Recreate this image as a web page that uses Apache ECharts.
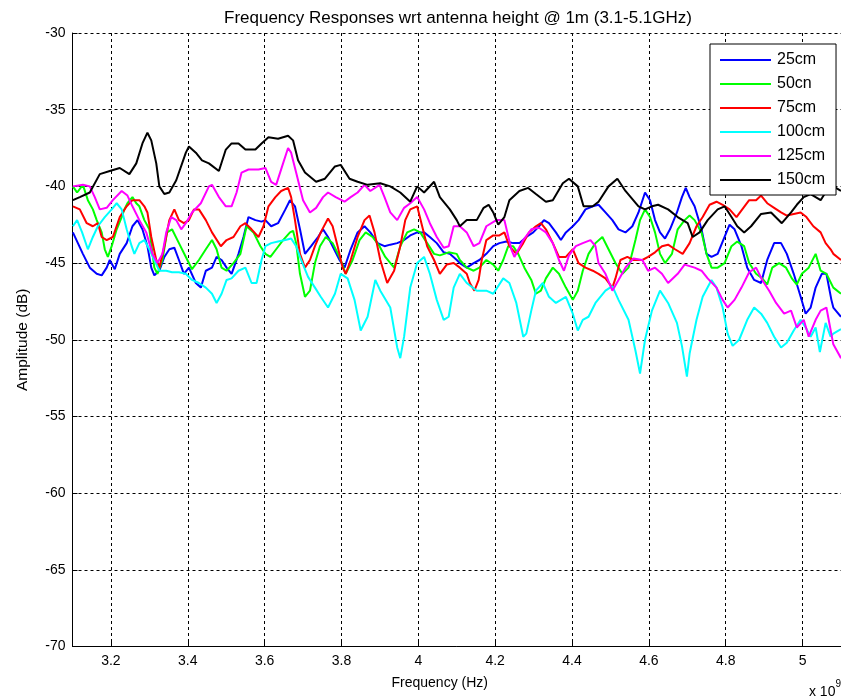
<!DOCTYPE html>
<html>
<head>
<meta charset="utf-8">
<script src="https://cdn.jsdelivr.net/npm/echarts@6/dist/echarts.min.js"></script>
<style>
  html, body { margin: 0; padding: 0; background: #fff; }
  #chart { width: 841px; height: 700px; }
</style>
</head>
<body>
<div id="chart"></div>
<script>
// Measured frequency responses, [frequency (GHz), amplitude (dB)] per antenna height.
const cm25 = [[3.101,-43.0],[3.114,-43.7],[3.127,-44.4],[3.145,-45.3],[3.163,-45.7],[3.176,-45.8],[3.189,-45.3],[3.197,-44.8],[3.210,-45.4],[3.223,-44.4],[3.241,-43.7],[3.256,-42.6],[3.269,-42.2],[3.282,-42.8],[3.295,-43.9],[3.305,-45.3],[3.313,-45.8],[3.326,-45.5],[3.339,-44.6],[3.352,-44.1],[3.365,-44.0],[3.377,-44.8],[3.390,-45.7],[3.403,-45.3],[3.421,-46.3],[3.434,-46.6],[3.447,-45.5],[3.463,-45.3],[3.475,-44.6],[3.488,-44.8],[3.501,-45.3],[3.514,-45.7],[3.524,-45.0],[3.532,-44.4],[3.545,-43.3],[3.558,-42.0],[3.576,-42.2],[3.592,-42.3],[3.602,-42.2],[3.617,-42.6],[3.635,-42.4],[3.654,-41.5],[3.666,-40.9],[3.679,-41.3],[3.692,-42.8],[3.705,-44.4],[3.721,-43.9],[3.739,-43.3],[3.752,-42.8],[3.765,-43.3],[3.777,-43.9],[3.795,-44.8],[3.808,-45.3],[3.824,-44.1],[3.842,-43.0],[3.860,-42.6],[3.875,-43.0],[3.894,-43.7],[3.912,-43.9],[3.927,-43.8],[3.945,-43.7],[3.963,-43.5],[3.979,-43.2],[3.997,-43.0],[4.015,-43.0],[4.030,-43.3],[4.048,-43.7],[4.066,-44.3],[4.082,-44.4],[4.100,-44.8],[4.108,-45.0],[4.126,-45.3],[4.144,-45.0],[4.159,-44.8],[4.177,-44.4],[4.195,-43.9],[4.211,-43.7],[4.229,-43.6],[4.247,-43.7],[4.263,-43.7],[4.281,-43.3],[4.299,-43.0],[4.314,-42.6],[4.327,-42.2],[4.340,-42.4],[4.358,-43.0],[4.371,-43.5],[4.384,-43.0],[4.402,-42.6],[4.417,-42.2],[4.435,-41.5],[4.454,-41.3],[4.469,-41.2],[4.487,-41.7],[4.505,-42.2],[4.521,-42.8],[4.539,-43.0],[4.557,-42.6],[4.573,-41.7],[4.590,-40.4],[4.603,-40.9],[4.616,-42.2],[4.629,-43.0],[4.642,-43.4],[4.655,-42.8],[4.673,-41.7],[4.686,-40.7],[4.696,-40.1],[4.706,-40.7],[4.719,-41.3],[4.737,-42.8],[4.750,-44.4],[4.763,-44.6],[4.779,-44.4],[4.797,-43.3],[4.810,-42.5],[4.823,-42.8],[4.841,-43.9],[4.856,-45.3],[4.874,-46.1],[4.892,-46.3],[4.908,-44.8],[4.926,-43.7],[4.944,-43.7],[4.959,-44.4],[4.977,-45.7],[4.995,-47.2],[5.008,-48.3],[5.021,-47.9],[5.034,-46.6],[5.050,-45.7],[5.062,-45.7],[5.075,-47.4],[5.080,-47.9],[5.100,-48.5]];

const cm50 = [[3.101,-40.0],[3.112,-40.4],[3.127,-39.9],[3.140,-40.9],[3.153,-41.5],[3.163,-42.2],[3.176,-43.0],[3.184,-44.1],[3.192,-44.6],[3.202,-43.9],[3.215,-42.8],[3.228,-42.0],[3.235,-41.5],[3.243,-41.1],[3.256,-40.7],[3.266,-41.1],[3.274,-41.3],[3.287,-42.2],[3.300,-42.8],[3.313,-45.3],[3.321,-45.7],[3.334,-44.8],[3.346,-43.0],[3.359,-42.8],[3.377,-43.7],[3.395,-44.6],[3.411,-45.4],[3.429,-44.8],[3.447,-44.1],[3.463,-43.5],[3.475,-44.1],[3.488,-45.3],[3.501,-45.5],[3.519,-45.0],[3.537,-44.4],[3.553,-42.6],[3.571,-43.0],[3.589,-43.9],[3.602,-44.4],[3.615,-44.6],[3.630,-44.1],[3.648,-43.5],[3.666,-43.0],[3.674,-42.9],[3.682,-43.7],[3.692,-45.7],[3.705,-47.2],[3.718,-46.8],[3.731,-45.0],[3.744,-43.9],[3.759,-43.3],[3.777,-43.7],[3.795,-44.6],[3.811,-45.7],[3.829,-44.8],[3.847,-43.5],[3.863,-43.0],[3.881,-43.3],[3.899,-43.9],[3.914,-44.6],[3.937,-45.3],[3.953,-43.9],[3.971,-43.0],[3.989,-42.8],[4.005,-43.0],[4.023,-43.7],[4.041,-44.4],[4.056,-44.5],[4.079,-44.3],[4.100,-44.4],[4.108,-44.8],[4.126,-45.3],[4.144,-45.5],[4.159,-45.3],[4.177,-44.8],[4.195,-45.1],[4.208,-45.5],[4.221,-44.8],[4.234,-43.9],[4.247,-43.9],[4.260,-44.4],[4.276,-45.3],[4.294,-46.1],[4.306,-47.0],[4.319,-46.8],[4.332,-46.0],[4.350,-45.3],[4.366,-45.7],[4.384,-46.6],[4.402,-47.4],[4.415,-46.8],[4.428,-45.5],[4.443,-44.4],[4.461,-43.7],[4.479,-43.3],[4.495,-44.1],[4.513,-45.0],[4.531,-45.7],[4.547,-45.3],[4.565,-43.5],[4.577,-42.2],[4.590,-41.5],[4.603,-42.0],[4.616,-43.0],[4.629,-44.4],[4.642,-45.0],[4.660,-44.4],[4.675,-42.8],[4.693,-42.2],[4.706,-41.9],[4.719,-42.2],[4.737,-43.0],[4.750,-44.4],[4.763,-45.3],[4.779,-45.3],[4.797,-45.0],[4.815,-43.9],[4.830,-43.6],[4.848,-43.9],[4.861,-45.0],[4.879,-45.7],[4.895,-46.0],[4.908,-46.4],[4.921,-45.3],[4.939,-45.0],[4.957,-45.3],[4.972,-46.0],[4.985,-46.4],[4.998,-45.7],[5.016,-45.3],[5.034,-44.4],[5.047,-45.5],[5.062,-45.7],[5.080,-46.6],[5.100,-47.0]];

const cm75 = [[3.101,-41.3],[3.119,-41.5],[3.137,-42.4],[3.153,-42.6],[3.166,-42.4],[3.176,-43.3],[3.189,-43.5],[3.205,-43.3],[3.223,-42.0],[3.241,-41.3],[3.256,-40.9],[3.274,-40.9],[3.287,-41.3],[3.295,-41.7],[3.305,-43.3],[3.318,-44.8],[3.326,-45.3],[3.339,-43.9],[3.352,-42.2],[3.365,-41.5],[3.377,-42.2],[3.390,-42.4],[3.403,-42.2],[3.416,-41.5],[3.429,-41.5],[3.447,-42.2],[3.463,-43.0],[3.486,-43.9],[3.501,-43.5],[3.519,-43.3],[3.537,-42.6],[3.550,-42.4],[3.566,-42.8],[3.584,-43.3],[3.597,-42.6],[3.610,-41.3],[3.628,-40.7],[3.643,-40.3],[3.661,-40.1],[3.669,-40.7],[3.679,-42.2],[3.692,-44.4],[3.705,-45.3],[3.718,-44.8],[3.731,-43.9],[3.746,-43.0],[3.765,-42.1],[3.777,-42.6],[3.790,-43.9],[3.803,-45.3],[3.811,-45.7],[3.824,-44.8],[3.842,-43.3],[3.860,-42.2],[3.873,-41.9],[3.886,-43.0],[3.901,-44.8],[3.919,-46.3],[3.937,-45.5],[3.953,-43.9],[3.966,-42.2],[3.979,-41.5],[3.997,-41.3],[4.010,-42.6],[4.023,-43.9],[4.041,-44.8],[4.056,-45.7],[4.074,-45.1],[4.092,-45.0],[4.108,-45.3],[4.126,-45.7],[4.134,-46.3],[4.146,-46.8],[4.157,-46.1],[4.165,-44.8],[4.177,-43.5],[4.195,-43.2],[4.211,-43.2],[4.224,-43.0],[4.237,-43.9],[4.255,-44.4],[4.273,-43.7],[4.288,-43.0],[4.306,-42.6],[4.319,-42.4],[4.332,-42.8],[4.350,-43.7],[4.366,-44.6],[4.384,-44.6],[4.402,-44.1],[4.417,-45.0],[4.435,-45.3],[4.454,-45.5],[4.469,-45.7],[4.487,-46.0],[4.505,-46.6],[4.513,-46.0],[4.526,-44.8],[4.544,-44.6],[4.560,-44.8],[4.583,-44.8],[4.598,-44.6],[4.616,-44.3],[4.634,-43.9],[4.650,-43.8],[4.668,-44.1],[4.688,-44.4],[4.706,-43.7],[4.724,-42.6],[4.740,-42.0],[4.758,-41.2],[4.776,-41.0],[4.792,-41.2],[4.810,-41.5],[4.828,-42.0],[4.843,-41.5],[4.861,-40.9],[4.879,-40.9],[4.892,-40.6],[4.908,-41.1],[4.926,-41.4],[4.944,-41.7],[4.959,-41.9],[4.977,-41.8],[4.995,-41.7],[5.010,-42.0],[5.028,-42.6],[5.047,-43.0],[5.060,-43.7],[5.073,-44.1],[5.080,-44.4],[5.100,-44.8]];

const cm100 = [[3.101,-42.6],[3.112,-42.2],[3.125,-43.0],[3.140,-44.1],[3.153,-43.3],[3.166,-42.6],[3.184,-42.0],[3.202,-41.5],[3.215,-41.1],[3.228,-41.5],[3.241,-42.8],[3.254,-43.9],[3.261,-44.4],[3.274,-43.7],[3.287,-43.5],[3.300,-44.1],[3.313,-44.8],[3.326,-45.5],[3.344,-45.5],[3.359,-45.6],[3.377,-45.6],[3.395,-45.7],[3.411,-46.1],[3.429,-46.3],[3.447,-46.6],[3.463,-47.0],[3.475,-47.6],[3.488,-47.0],[3.501,-46.1],[3.514,-46.0],[3.532,-45.5],[3.550,-45.3],[3.566,-46.3],[3.579,-46.3],[3.592,-44.8],[3.602,-43.9],[3.617,-43.7],[3.635,-43.6],[3.654,-43.5],[3.669,-43.4],[3.682,-43.9],[3.695,-44.8],[3.713,-45.9],[3.731,-46.6],[3.746,-47.2],[3.765,-47.9],[3.783,-47.0],[3.798,-45.7],[3.816,-46.0],[3.834,-47.4],[3.850,-49.4],[3.868,-48.5],[3.888,-46.1],[3.901,-46.8],[3.927,-47.9],[3.945,-50.5],[3.953,-51.2],[3.963,-49.8],[3.979,-46.6],[3.997,-45.0],[4.015,-44.6],[4.030,-45.7],[4.048,-47.4],[4.066,-48.7],[4.079,-48.5],[4.092,-46.6],[4.108,-45.7],[4.126,-46.3],[4.152,-46.8],[4.177,-46.8],[4.195,-47.0],[4.221,-46.0],[4.237,-46.3],[4.255,-47.6],[4.273,-49.8],[4.281,-49.6],[4.294,-48.1],[4.306,-46.8],[4.324,-46.3],[4.340,-47.2],[4.358,-47.6],[4.384,-47.2],[4.402,-48.3],[4.415,-49.4],[4.428,-48.7],[4.443,-48.5],[4.461,-47.6],[4.487,-46.8],[4.505,-46.5],[4.521,-47.4],[4.547,-48.7],[4.565,-50.7],[4.577,-52.2],[4.590,-50.0],[4.608,-48.1],[4.629,-46.8],[4.650,-47.6],[4.673,-48.9],[4.686,-50.4],[4.699,-52.4],[4.706,-50.9],[4.724,-48.7],[4.740,-47.2],[4.763,-46.1],[4.776,-46.6],[4.792,-47.9],[4.805,-49.6],[4.818,-50.4],[4.835,-50.0],[4.856,-48.7],[4.874,-47.9],[4.892,-48.3],[4.908,-48.9],[4.926,-49.8],[4.944,-50.5],[4.959,-50.2],[4.977,-49.4],[4.995,-48.7],[5.008,-49.2],[5.021,-49.8],[5.034,-49.2],[5.045,-50.8],[5.060,-48.9],[5.073,-49.8],[5.080,-49.6],[5.100,-49.3]];

const cm125 = [[3.101,-40.0],[3.127,-39.9],[3.145,-40.0],[3.158,-40.7],[3.171,-41.5],[3.189,-41.4],[3.205,-40.9],[3.228,-40.3],[3.243,-40.6],[3.256,-41.3],[3.274,-42.2],[3.292,-43.0],[3.308,-44.4],[3.321,-45.0],[3.334,-44.4],[3.344,-43.0],[3.357,-42.0],[3.370,-42.2],[3.383,-42.8],[3.395,-42.4],[3.411,-41.7],[3.434,-41.1],[3.455,-40.0],[3.463,-39.9],[3.481,-40.7],[3.499,-41.3],[3.514,-41.3],[3.527,-40.4],[3.540,-39.1],[3.558,-38.9],[3.584,-38.9],[3.602,-38.8],[3.617,-39.7],[3.630,-39.9],[3.648,-38.5],[3.661,-37.5],[3.669,-37.8],[3.682,-39.1],[3.700,-40.9],[3.718,-41.7],[3.734,-41.4],[3.752,-40.7],[3.765,-40.4],[3.785,-40.7],[3.808,-41.0],[3.824,-40.7],[3.842,-40.4],[3.860,-39.9],[3.875,-40.3],[3.899,-39.9],[3.912,-40.7],[3.927,-41.7],[3.945,-42.2],[3.963,-41.4],[3.979,-41.1],[3.997,-40.7],[4.015,-41.5],[4.030,-42.4],[4.048,-43.3],[4.066,-44.0],[4.079,-43.9],[4.092,-42.6],[4.108,-42.6],[4.126,-43.0],[4.144,-43.9],[4.159,-43.7],[4.177,-42.6],[4.203,-42.2],[4.224,-42.2],[4.242,-44.1],[4.250,-44.6],[4.273,-43.5],[4.294,-42.8],[4.314,-42.7],[4.332,-43.0],[4.350,-43.7],[4.366,-44.8],[4.379,-45.5],[4.392,-44.5],[4.410,-43.9],[4.428,-43.7],[4.448,-43.5],[4.461,-43.9],[4.469,-45.0],[4.487,-45.7],[4.505,-46.8],[4.521,-46.1],[4.539,-45.3],[4.560,-44.7],[4.583,-44.8],[4.598,-45.5],[4.616,-45.3],[4.634,-45.7],[4.650,-46.3],[4.675,-45.7],[4.693,-45.1],[4.719,-45.3],[4.737,-45.5],[4.753,-46.0],[4.776,-46.6],[4.792,-47.4],[4.805,-47.9],[4.823,-47.4],[4.841,-46.6],[4.861,-45.6],[4.879,-45.3],[4.895,-46.1],[4.913,-46.8],[4.931,-47.6],[4.952,-48.3],[4.970,-48.1],[4.985,-49.2],[5.003,-48.7],[5.016,-49.8],[5.034,-48.7],[5.047,-48.1],[5.062,-47.9],[5.080,-50.3],[5.100,-51.2]];

const cm150 = [[3.101,-40.9],[3.119,-40.7],[3.145,-40.4],[3.171,-39.2],[3.197,-39.0],[3.223,-38.8],[3.248,-39.2],[3.266,-38.5],[3.282,-37.2],[3.295,-36.5],[3.305,-37.0],[3.318,-38.5],[3.326,-40.0],[3.339,-40.5],[3.352,-40.4],[3.370,-39.6],[3.395,-37.8],[3.403,-37.4],[3.421,-37.8],[3.437,-38.3],[3.455,-38.5],[3.481,-39.0],[3.499,-37.6],[3.514,-37.2],[3.532,-37.2],[3.550,-37.6],[3.576,-37.6],[3.592,-37.2],[3.610,-36.8],[3.635,-36.9],[3.661,-36.7],[3.674,-37.0],[3.687,-38.3],[3.705,-39.1],[3.734,-39.7],[3.757,-39.5],[3.783,-38.7],[3.798,-38.6],[3.821,-39.5],[3.842,-39.7],[3.868,-39.9],[3.901,-39.8],[3.927,-40.0],[3.953,-40.4],[3.979,-41.0],[3.997,-40.0],[4.015,-40.4],[4.041,-39.7],[4.056,-40.7],[4.082,-41.5],[4.100,-42.2],[4.108,-42.6],[4.126,-42.2],[4.152,-42.2],[4.170,-41.4],[4.183,-41.2],[4.195,-41.7],[4.208,-42.5],[4.224,-42.0],[4.237,-40.9],[4.263,-40.3],[4.286,-40.1],[4.306,-40.5],[4.332,-41.0],[4.350,-40.9],[4.376,-39.8],[4.392,-39.5],[4.415,-40.0],[4.430,-41.3],[4.454,-41.3],[4.469,-41.0],[4.495,-40.0],[4.518,-39.5],[4.539,-40.3],[4.573,-41.3],[4.590,-41.5],[4.608,-41.3],[4.624,-41.2],[4.650,-41.5],[4.675,-42.0],[4.701,-42.4],[4.714,-43.3],[4.732,-43.0],[4.753,-42.2],[4.779,-41.5],[4.797,-41.3],[4.815,-42.0],[4.830,-42.6],[4.848,-43.0],[4.866,-42.6],[4.892,-41.8],[4.918,-41.7],[4.946,-42.4],[4.970,-41.7],[4.985,-41.2],[5.003,-40.7],[5.021,-40.5],[5.047,-40.9],[5.062,-40.3],[5.080,-40.0],[5.100,-40.3]];

const seriesNames = ['25cm', '50cn', '75cm', '100cm', '125cm', '150cm'];
const seriesData = [cm25, cm50, cm75, cm100, cm125, cm150];
const seriesColors = ['#0000ff', '#00ff00', '#ff0000', '#00ffff', '#ff00ff', '#000000'];

const xTicks = [3.2, 3.4, 3.6, 3.8, 4.0, 4.2, 4.4, 4.6, 4.8, 5.0];

const titleText = 'Frequency Responses wrt antenna height @ 1m (3.1-5.1GHz)';
const xName = 'Frequency (Hz)';
const yName = 'Amplitude (dB)';

const FONT = 'Liberation Sans, Arial, sans-serif';
const gridDash = { color: '#000', width: 1, type: [3, 3] };

const chart = echarts.init(document.getElementById('chart'), null, { renderer: 'canvas' });

chart.setOption({
  animation: false,
  backgroundColor: '#fff',
  textStyle: { fontFamily: FONT },
  title: {
    text: titleText,
    left: 219,
    top: 5,
    textStyle: { fontFamily: FONT, fontSize: 17, fontWeight: 'normal', color: '#000' }
  },
  grid: { left: 72.5, right: -4, top: 33, bottom: 53.5, containLabel: false },
  legend: {
    orient: 'vertical',
    left: 710,
    top: 44,
    padding: [8, 11, 7, 10],
    itemGap: 8,
    itemWidth: 51,
    itemHeight: 2,
    icon: 'rect',
    backgroundColor: '#fff',
    borderColor: '#000',
    borderWidth: 1,
    borderRadius: 0,
    textStyle: { fontFamily: FONT, fontSize: 16, color: '#000', padding: [0, 0, 0, 1] },
    data: seriesNames
  },
  xAxis: {
    type: 'value',
    min: 3.1,
    max: 5.1,
    name: xName,
    nameLocation: 'middle',
    nameGap: 30,
    nameTextStyle: { fontFamily: FONT, fontSize: 14, color: '#000', padding: [0, 34, 0, 0] },
    axisLine: { show: true, onZero: false, lineStyle: { color: '#000', width: 1 } },
    axisTick: { show: true, inside: true, length: 5, customValues: xTicks, lineStyle: { color: '#000' } },
    axisLabel: {
      customValues: xTicks,
      margin: 8,
      fontFamily: FONT, fontSize: 14, color: '#000',
      formatter: v => String(Math.round(v * 10) / 10)
    },
    splitLine: { show: true, lineStyle: gridDash }
  },
  yAxis: {
    type: 'value',
    min: -70,
    max: -30,
    interval: 5,
    name: yName,
    nameLocation: 'middle',
    nameGap: 42,
    nameRotate: 90,
    nameTextStyle: { fontFamily: FONT, fontSize: 15.5, color: '#000' },
    axisLine: { show: true, onZero: false, lineStyle: { color: '#000', width: 1 } },
    axisTick: { show: true, inside: true, length: 5, lineStyle: { color: '#000' } },
    axisLabel: { margin: 7, fontFamily: FONT, fontSize: 14, color: '#000' },
    splitLine: { show: true, lineStyle: gridDash }
  },
  graphic: [{
    type: 'text',
    right: 0,
    top: 679,
    style: {
      text: '{b|x 10}{s|9}',
      rich: {
        b: { fontFamily: FONT, fontSize: 14, color: '#000', verticalAlign: 'bottom', lineHeight: 20 },
        s: { fontFamily: FONT, fontSize: 10, color: '#000', verticalAlign: 'top', lineHeight: 20 }
      }
    }
  }],
  series: seriesNames.map((name, i) => ({
    name,
    type: 'line',
    data: seriesData[i],
    showSymbol: false,
    symbol: 'none',
    smooth: false,
    clip: true,
    lineStyle: { color: seriesColors[i], width: 2 },
    itemStyle: { color: seriesColors[i] }
  }))
});
</script>
</body>
</html>
